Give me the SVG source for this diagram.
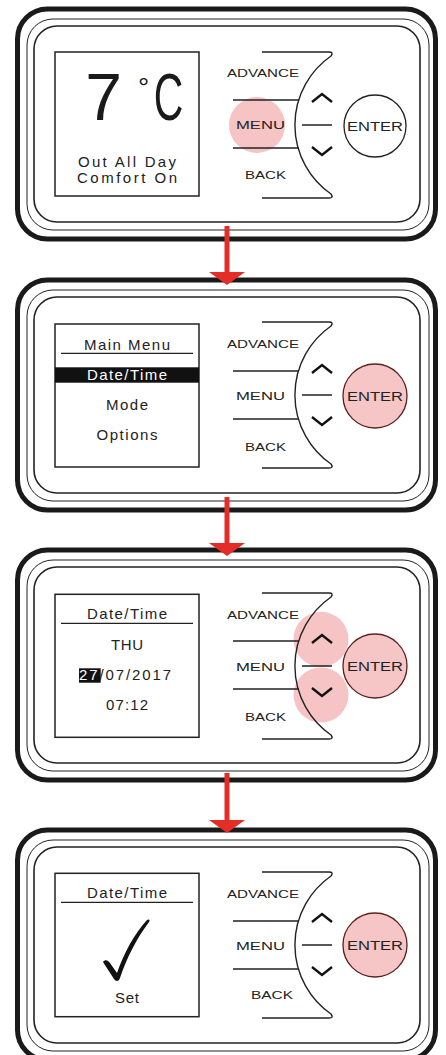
<svg xmlns="http://www.w3.org/2000/svg" width="446" height="1055" viewBox="0 0 446 1055">
<style>
.thick{fill:#fff;stroke:#1a1a1a;stroke-width:5}
.ring2{fill:none;stroke:#222;stroke-width:1}
.ring3{fill:none;stroke:#222;stroke-width:1.6}
.screen{fill:#fff;stroke:#222;stroke-width:1.5}
.ln{fill:none;stroke:#222;stroke-width:1.4}
.chev{fill:none;stroke:#111;stroke-width:2.4}
.btn{font-family:"Liberation Sans",Arial,sans-serif;font-size:11px;fill:#222;text-anchor:middle}
.ent{font-family:"Liberation Sans",Arial,sans-serif;font-size:12.5px;fill:#222;text-anchor:middle}
.scr{font-family:"Liberation Sans",Arial,sans-serif;font-size:15px;fill:#222;text-anchor:middle}
.seg{font-family:"Liberation Sans",Arial,sans-serif;font-size:66px;fill:#1a1a1a;text-anchor:middle}
.enter{fill:#fff;stroke:#222;stroke-width:1.3}
.enteron{fill:#f6c5c5;stroke:#5b2020;stroke-width:1.3}
.hl{fill:#f6c4c4}
.arrow{fill:#e52d27}
.uline{stroke:#222;stroke-width:1.2}
</style>

<g id="panel1">
  <rect class="thick" x="17.5" y="9" width="418" height="230" rx="30"/>
  <rect class="ring2" x="27" y="19" width="402" height="211" rx="26"/>
  <rect class="ring3" x="34" y="26" width="386" height="196" rx="23"/>
  <rect class="screen" x="55" y="52" width="144" height="144"/>
  <text class="seg" x="103.5" y="120">7</text>
  <text class="seg" x="143.5" y="97" style="font-size:28px">°</text>
  <text class="seg" transform="translate(168.5,120) scale(0.62,1)">C</text>
  <text class="scr" x="127" y="167" textLength="98">Out All Day</text>
  <text class="scr" x="127" y="183" textLength="100">Comfort On</text>
  <circle class="hl" cx="257" cy="125" r="28"/>
  <path class="ln" d="M262,52 H329 Q334,52 331,56 A84,84 0 0 0 331,194 Q334,198 329,198 H262"/>
  <path class="ln" d="M233,100 H299 M233,148 H299 M302,125 H332"/>
  <path class="chev" d="M312,102 L322,94 L332,102 M312,147 L322,155 L332,147"/>
  <circle class="enter" cx="375" cy="126" r="31"/>
  <text class="btn" x="263" y="77" textLength="72" lengthAdjust="spacingAndGlyphs">ADVANCE</text>
  <text class="btn" x="260.5" y="129" textLength="49" lengthAdjust="spacingAndGlyphs">MENU</text>
  <text class="btn" x="265.5" y="179" textLength="41" lengthAdjust="spacingAndGlyphs">BACK</text>
  <text class="ent" x="375" y="130.5" textLength="56" lengthAdjust="spacingAndGlyphs">ENTER</text>
</g>

<g id="panel2" transform="translate(0,271)">
  <rect class="thick" x="17.5" y="9" width="418" height="230" rx="30"/>
  <rect class="ring2" x="27" y="19" width="402" height="211" rx="26"/>
  <rect class="ring3" x="34" y="26" width="386" height="196" rx="23"/>
  <rect class="screen" x="55" y="53" width="144" height="143"/>
  <text class="scr" x="127" y="79" textLength="86">Main Menu</text>
  <path class="uline" d="M61,82.3 H193"/>
  <rect x="55" y="96.3" width="144" height="15.4" fill="#111"/>
  <text class="scr" x="127" y="109" textLength="80" style="fill:#fff">Date/Time</text>
  <text class="scr" x="127" y="139" textLength="42">Mode</text>
  <text class="scr" x="127" y="169" textLength="61">Options</text>
  <path class="ln" d="M262,51 H329 Q334,51 331,55 A84,84 0 0 0 331,193 Q334,197 329,197 H262"/>
  <path class="ln" d="M233,100 H299 M233,148 H299 M302,124 H332"/>
  <path class="chev" d="M312,102 L322,94 L332,102 M312,146 L322,154 L332,146"/>
  <circle class="enteron" cx="375" cy="125" r="32"/>
  <text class="btn" x="263" y="76.5" textLength="72" lengthAdjust="spacingAndGlyphs">ADVANCE</text>
  <text class="btn" x="260.5" y="128.5" textLength="49" lengthAdjust="spacingAndGlyphs">MENU</text>
  <text class="btn" x="265.5" y="179.5" textLength="41" lengthAdjust="spacingAndGlyphs">BACK</text>
  <text class="ent" x="375" y="129.5" textLength="56" lengthAdjust="spacingAndGlyphs">ENTER</text>
</g>

<g id="panel3" transform="translate(0,541)">
  <rect class="thick" x="17.5" y="9" width="418" height="230" rx="30"/>
  <rect class="ring2" x="27" y="19" width="402" height="211" rx="26"/>
  <rect class="ring3" x="34" y="26" width="386" height="196" rx="23"/>
  <rect class="screen" x="55" y="53.3" width="144" height="143"/>
  <text class="scr" x="127" y="78.3" textLength="80">Date/Time</text>
  <path class="uline" d="M61,82.3 H193"/>
  <text class="scr" x="127" y="109" textLength="32">THU</text>
  <rect x="79" y="127.3" width="21.7" height="14.4" fill="#111"/>
  <text class="scr" x="125" y="139" textLength="92"><tspan style="fill:#fff">27</tspan>/07/2017</text>
  <text class="scr" x="127" y="169" textLength="42">07:12</text>
  <circle class="hl" cx="321" cy="98.3" r="27.5"/>
  <circle class="hl" cx="321" cy="154" r="27.5"/>
  <path class="ln" d="M262,52 H329 Q334,52 331,56 A84,84 0 0 0 331,194 Q334,198 329,198 H262"/>
  <path class="ln" d="M233,100 H299 M233,148 H299 M302,125 H332"/>
  <path class="chev" d="M312,102 L322,94 L332,102 M312,147 L322,155 L332,147"/>
  <circle class="enteron" cx="375" cy="125" r="32"/>
  <text class="btn" x="263" y="78" textLength="72" lengthAdjust="spacingAndGlyphs">ADVANCE</text>
  <text class="btn" x="260.5" y="129.5" textLength="49" lengthAdjust="spacingAndGlyphs">MENU</text>
  <text class="btn" x="265.5" y="180" textLength="41" lengthAdjust="spacingAndGlyphs">BACK</text>
  <text class="ent" x="375" y="130" textLength="56" lengthAdjust="spacingAndGlyphs">ENTER</text>
</g>

<g id="panel4" transform="translate(0,821)">
  <rect class="thick" x="17.5" y="9" width="418" height="230" rx="30"/>
  <rect class="ring2" x="27" y="19" width="402" height="211" rx="26"/>
  <rect class="ring3" x="34" y="26" width="386" height="196" rx="23"/>
  <rect class="screen" x="55" y="52.3" width="144" height="143.4"/>
  <text class="scr" x="127" y="77.3" textLength="80">Date/Time</text>
  <path class="uline" d="M61,81.3 H193"/>
  <path fill="#111" d="M103,141 C105,138 108,139 110,142 L117,152 C124,132 134,113 147,99 C149,97.5 150.5,99 149,101 C137,117 127,136 120,157 C119,160.5 116,161 114,158 Z"/>
  <text class="scr" x="127" y="182.3" textLength="24">Set</text>
  <path class="ln" d="M262,51 H329 Q334,51 331,55 A84,84 0 0 0 331,193 Q334,197 329,197 H262"/>
  <path class="ln" d="M233,100 H299 M233,148 H299 M302,124 H332"/>
  <path class="chev" d="M312,101 L322,93 L332,101 M312,146 L322,154 L332,146"/>
  <circle class="enteron" cx="375" cy="124" r="32"/>
  <text class="btn" x="263" y="77.3" textLength="72" lengthAdjust="spacingAndGlyphs">ADVANCE</text>
  <text class="btn" x="260.5" y="129" textLength="49" lengthAdjust="spacingAndGlyphs">MENU</text>
  <text class="btn" x="272" y="178" textLength="42" lengthAdjust="spacingAndGlyphs">BACK</text>
  <text class="ent" x="375" y="129" textLength="56" lengthAdjust="spacingAndGlyphs">ENTER</text>
</g>

<g id="connectors">
  <rect class="arrow" x="224.5" y="226" width="5" height="47"/>
  <polygon class="arrow" points="209,272 245,272 227,285"/>
  <rect class="arrow" x="224.5" y="497" width="5" height="47"/>
  <polygon class="arrow" points="209,543 245,543 227,556"/>
  <rect class="arrow" x="224.5" y="773" width="5" height="48"/>
  <polygon class="arrow" points="209,820 245,820 227,833"/>
</g>
</svg>
